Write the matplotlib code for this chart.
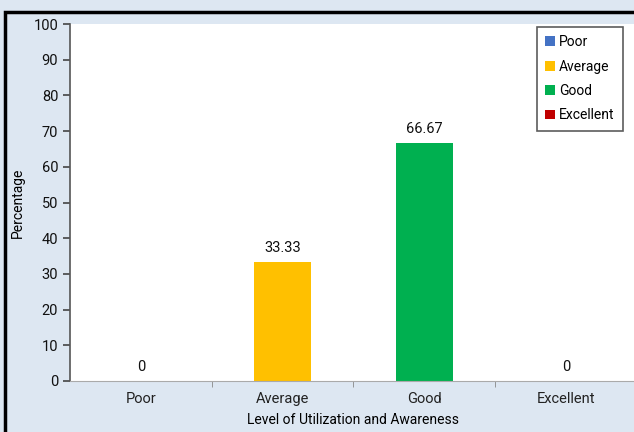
import matplotlib.pyplot as plt
import matplotlib.patches as mpatches
import numpy as np

plt.rcParams['font.family'] = ['Roboto', 'DejaVu Sans']

categories = ['Poor', 'Average', 'Good', 'Excellent']
values = [0, 33.33, 66.67, 0]
labels = ['0', '33.33', '66.67', '0']
colors = ['#4472C4', '#FFC000', '#00B050', '#C00000']

fig = plt.figure(figsize=(6.34, 4.32), dpi=100, facecolor='#dde7f2')
ax = fig.add_axes([0.1104, 0.1181, 0.8943, 0.8263])
ax.set_facecolor('white')

# black border round the chart (right / bottom cut off like the reference)
fig.patches.append(mpatches.Rectangle((0.008, -0.05), 1.2, 1.022, transform=fig.transFigure,
                                      fill=False, edgecolor='black', linewidth=2.5))

x = np.arange(len(categories))
bars = ax.bar(x, values, width=0.4, color=colors, label=categories)
for xi, v, t in zip(x, values, labels):
    ax.text(xi, v + 2, t, ha='center', va='bottom', fontsize=10.5, color='#111111')

ax.set_xlim(-0.5, 3.5)
ax.set_ylim(0, 100)
ax.set_yticks(range(0, 101, 10))
ax.set_xticks(x)
ax.set_xticklabels(categories, fontsize=10.5)
ax.set_xticks([0.5, 1.5, 2.5], minor=True)
ax.tick_params(axis='x', which='major', length=0, pad=8, labelcolor='#222222')
ax.tick_params(axis='x', which='minor', length=4, color='#888888')
ax.tick_params(axis='y', length=5, width=1.2, labelsize=10.5, color='#444444',
               labelcolor='#111111')
for s in ['top', 'right']:
    ax.spines[s].set_visible(False)
ax.spines['left'].set_color('#555555')
ax.spines['left'].set_linewidth(1.2)
ax.spines['bottom'].set_color('#aaaaaa')

ax.set_ylabel('Percentage', fontsize=10, labelpad=6)
ax.set_xlabel('Level of Utilization and Awareness', fontsize=10, labelpad=5)

leg = ax.legend(loc='upper left', bbox_to_anchor=(0.8236, 0.992), borderaxespad=0,
                fontsize=10, handlelength=0.7, handleheight=0.7, handletextpad=0.3,
                labelspacing=0.75, fancybox=False, edgecolor='#333333',
                borderpad=0.6)
leg.get_frame().set_linewidth(1.2)

fig.savefig('out.png', dpi=100, facecolor=fig.get_facecolor())
